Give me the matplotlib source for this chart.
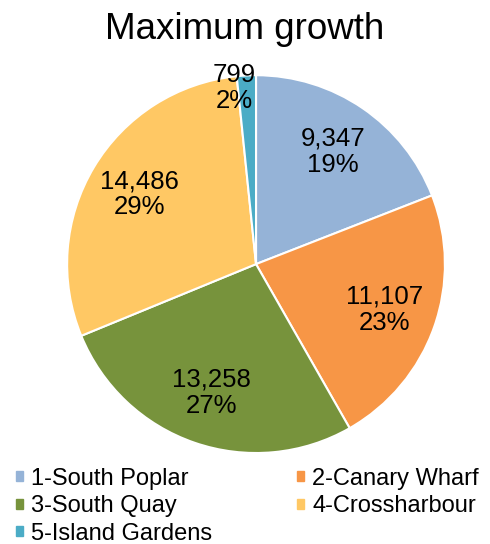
import numpy as np
import matplotlib.pyplot as plt

plt.rcParams['font.family'] = ['Liberation Sans', 'DejaVu Sans']

labels = ['1-South Poplar', '2-Canary Wharf', '3-South Quay', '4-Crossharbour', '5-Island Gardens']
values = [9347, 11107, 13258, 14486, 799]
pct_labels = ['19%', '23%', '27%', '29%', '2%']
colors = ['#95B3D7', '#F79646', '#77933C', '#FFC864', '#4BACC6']

fig = plt.figure(figsize=(4.9, 5.44), dpi=100)
ax = fig.add_axes([0.137, 0.167, 0.771, 0.695])

wedges, _ = ax.pie(values, colors=colors, startangle=90, counterclock=False,
                   wedgeprops=dict(edgecolor='white', linewidth=1.5))
ax.set_xlim(-1, 1)
ax.set_ylim(-1, 1)
ax.set_aspect('equal')

total = sum(values)
for w, v, p in zip(wedges, values, pct_labels):
    ang = (w.theta1 + w.theta2) / 2
    r = 0.72
    if v / total < 0.05:
        # small slice: label pushed out near the rim, nudged left
        r, ang = 0.94, ang + 4
    ang = np.deg2rad(ang)
    x, y = r * np.cos(ang), r * np.sin(ang)
    ax.text(x, y, f'{v:,}\n{p}', ha='center', va='center',
            fontsize=18.5, linespacing=1.12)

fig.text(0.5, 0.945, 'Maximum growth', ha='center', va='center', fontsize=26.5)

# legend is filled row by row in the reference
order = [0, 2, 4, 1, 3]
handles = [plt.Rectangle((0, 0), 1, 1, color=colors[i]) for i in order]
fig.legend(handles, [labels[i] for i in order], loc='lower left', bbox_to_anchor=(-0.01, -0.04), ncol=2,
           frameon=False, fontsize=17, handlelength=0.28, handleheight=0.28,
           handletextpad=0.35, columnspacing=3.6, labelspacing=0.23)

fig.savefig('out.png', dpi=100)
